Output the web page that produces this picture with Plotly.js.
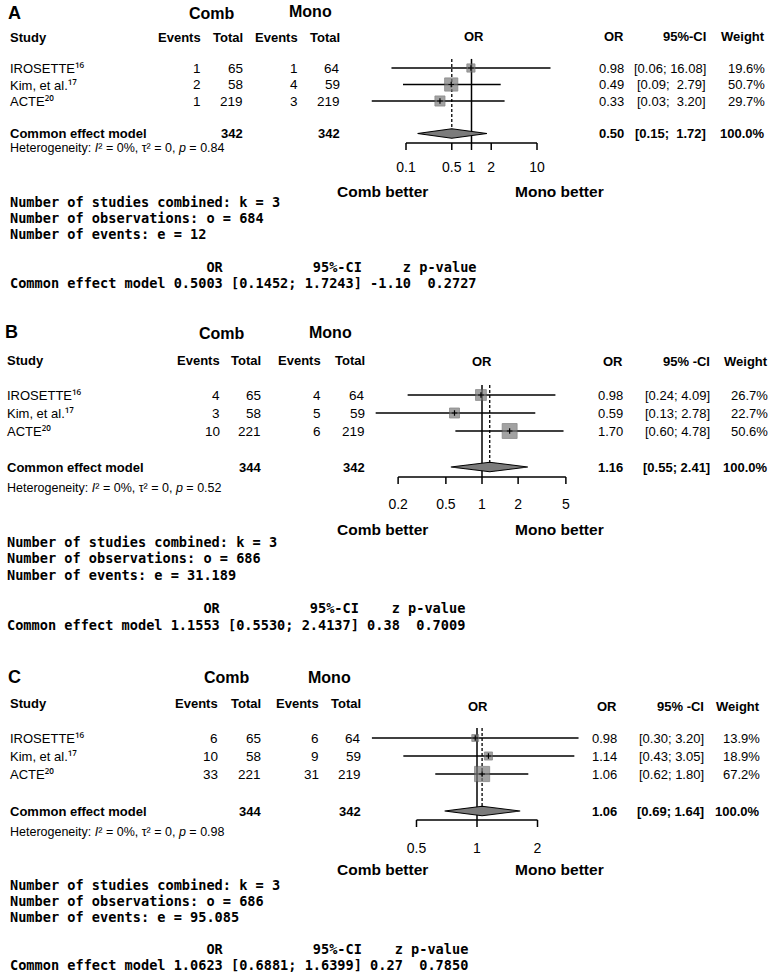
<!DOCTYPE html>
<html><head><meta charset="utf-8">
<script src="https://cdn.plot.ly/plotly-3.0.1.min.js"></script>
<style>body{margin:0;background:#fff}#chart{width:775px;height:976px}</style>
</head><body><div id="chart"></div>
<script>
// ---------------- DATA ----------------
const studyNames = ["IROSETTE", "Kim, et al.", "ACTE"];
const studyRefs  = ["\u00b9\u2076", "\u00b9\u2077", "\u00b2\u2070"];   // reference numbers 16, 17, 20
const panelLabels = ["A", "B", "C"];

const A_combEvents = [1, 2, 1];
const A_combTotal  = [65, 58, 219];
const A_monoEvents = [1, 4, 3];
const A_monoTotal  = [64, 59, 219];
const A_or   = [0.98, 0.49, 0.33];
const A_lo   = [0.06, 0.09, 0.03];
const A_hi   = [16.08, 2.79, 3.20];
const A_w    = [19.6, 50.7, 29.7];
const A_pool = [0.50, 0.15, 1.72];        // OR, lower, upper
const A_poolTotals = [342, 342];
const A_het = ["0%", "0", "0.84"];          // I2, tau2, p
const A_summary = [3, 684, "12"];           // k, o, e
const A_model = ["0.5003", "0.1452", "1.7243", "-1.10", "0.2727"];
const A_ticks = [0.1, 0.5, 1, 2, 10];
const A_tickLabels = ["0.1", "0.5", "1", "2", "10"];

const B_combEvents = [4, 3, 10];
const B_combTotal  = [65, 58, 221];
const B_monoEvents = [4, 5, 6];
const B_monoTotal  = [64, 59, 219];
const B_or   = [0.98, 0.59, 1.70];
const B_lo   = [0.24, 0.13, 0.60];
const B_hi   = [4.09, 2.78, 4.78];
const B_w    = [26.7, 22.7, 50.6];
const B_pool = [1.16, 0.55, 2.41];
const B_poolTotals = [344, 342];
const B_het = ["0%", "0", "0.52"];
const B_summary = [3, 686, "31.189"];
const B_model = ["1.1553", "0.5530", "2.4137", "0.38", "0.7009"];
const B_ticks = [0.2, 0.5, 1, 2, 5];
const B_tickLabels = ["0.2", "0.5", "1", "2", "5"];

const C_combEvents = [6, 10, 33];
const C_combTotal  = [65, 58, 221];
const C_monoEvents = [6, 9, 31];
const C_monoTotal  = [64, 59, 219];
const C_or   = [0.98, 1.14, 1.06];
const C_lo   = [0.30, 0.43, 0.62];
const C_hi   = [3.20, 3.05, 1.80];
const C_w    = [13.9, 18.9, 67.2];
const C_pool = [1.06, 0.69, 1.64];
const C_poolTotals = [344, 342];
const C_het = ["0%", "0", "0.98"];
const C_summary = [3, 686, "95.085"];
const C_model = ["1.0623", "0.6881", "1.6399", "0.27", "0.7850"];
const C_ticks = [0.5, 1, 2];
const C_tickLabels = ["0.5", "1", "2"];

// ---------------- LAYOUT CONFIG (pixel positions) ----------------
const W = 775, H = 976;
const SANS = "Liberation Sans, Arial, sans-serif";
const NARROW = "Liberation Sans Narrow, Arial Narrow, Liberation Sans, Arial, sans-serif";
const MONO = "DejaVu Sans Mono, monospace";
const NB = "\u00a0";

const panels = [
  {label: panelLabels[0], ce: A_combEvents, ct: A_combTotal, me: A_monoEvents, mt: A_monoTotal,
   or: A_or, lo: A_lo, hi: A_hi, w: A_w, pool: A_pool, pt: A_poolTotals, het: A_het, sum: A_summary,
   model: A_model, ticks: A_ticks, tickLabels: A_tickLabels, ciHdr: "95%-CI",
   left: 8, letterY: 13, combY: 13, monoHY: 11, combX: 212, monoX: 310, studyY: 37,
   cols: [203, 245, 300, 342], rcols: [626, 708, 767], orHdrY: 36, orHdrX: 474,
   row0: 68, step: 16.5, poolY: 133.5, hetY: 148, axisY: 143, tickLabY: 168, betterY: 191,
   monoY: [202, 218, 234, 267, 283], c: 471.5, s: 65.5, sqk: 1.85, xa: "x"},
  {label: panelLabels[1], ce: B_combEvents, ct: B_combTotal, me: B_monoEvents, mt: B_monoTotal,
   or: B_or, lo: B_lo, hi: B_hi, w: B_w, pool: B_pool, pt: B_poolTotals, het: B_het, sum: B_summary,
   model: B_model, ticks: B_ticks, tickLabels: B_tickLabels, ciHdr: "95%" + NB + "-CI",
   left: 5, letterY: 332, combY: 333, monoHY: 332, combX: 222, monoX: 330, studyY: 360,
   cols: [222, 263, 323, 367], rcols: [625, 712, 770], orHdrY: 361, orHdrX: 482,
   row0: 395, step: 18, poolY: 467, hetY: 488, axisY: 477, tickLabY: 505, betterY: 529,
   monoY: [542, 558, 575, 608, 625], c: 482, s: 120, sqk: 2.1, xa: "x2"},
  {label: panelLabels[2], ce: C_combEvents, ct: C_combTotal, me: C_monoEvents, mt: C_monoTotal,
   or: C_or, lo: C_lo, hi: C_hi, w: C_w, pool: C_pool, pt: C_poolTotals, het: C_het, sum: C_summary,
   model: C_model, ticks: C_ticks, tickLabels: C_tickLabels, ciHdr: "95%" + NB + "-CI",
   left: 8, letterY: 677, combY: 677, monoHY: 677, combX: 227, monoX: 329, studyY: 703,
   cols: [220, 263, 321, 363], rcols: [619, 706, 762], orHdrY: 706, orHdrX: 478,
   row0: 738, step: 18, poolY: 811, hetY: 832, axisY: 820, tickLabY: 849, betterY: 869,
   monoY: [885, 901, 917, 949, 965], c: 477, s: 201, sqk: 1.85, xa: "x3"}
];

const DOM0 = 345, DOM1 = 605;   // horizontal pixel span of each forest subplot

const traces = [];
const annotations = [];
const layout = {
  width: W, height: H, margin: {l: 0, r: 0, t: 0, b: 0},
  paper_bgcolor: "#fff", plot_bgcolor: "rgba(0,0,0,0)", showlegend: false,
  yaxis: {domain: [0, 1], range: [H, 0], visible: false, fixedrange: true},
  annotations: annotations
};

function ann(text, x, y, xanchor, size, bold, family) {
  annotations.push({
    text: text,
    xref: "paper", yref: "y", x: x / W, y: y,
    xanchor: xanchor, yanchor: "middle", showarrow: false,
    font: {family: family || SANS, size: size, color: "#000", weight: bold ? "bold" : "normal"}
  });
}
const nb = s => s.replace(/ /g, NB);
const supSpan = s => "<span style=\"font-family:'Noto Sans'\">" + s + "</span>";

panels.forEach((p, idx) => {
  const axKey = idx === 0 ? "xaxis" : "xaxis" + (idx + 1);
  layout[axKey] = {
    type: "log", domain: [DOM0 / W, DOM1 / W],
    range: [(DOM0 - p.c) / p.s, (DOM1 - p.c) / p.s],
    visible: false, fixedrange: true, anchor: "y"
  };
  const rows = p.or.map((_, i) => p.row0 + i * p.step);
  const top = p.row0 - 0.55 * p.step;
  const dh = 4.8;
  const common = {xaxis: p.xa, yaxis: "y", hoverinfo: "skip", showlegend: false};

  // reference line at OR = 1
  traces.push(Object.assign({type: "scatter", mode: "lines", x: [1, 1], y: [top, p.axisY],
    line: {color: "#000", width: 1.5}}, common));
  // dashed line at pooled estimate
  traces.push(Object.assign({type: "scatter", mode: "lines", x: [p.pool[0], p.pool[0]], y: [top, p.poolY - dh],
    line: {color: "#000", width: 1.3, dash: "3px,2px"}}, common));
  // CI lines
  const cx = [], cy = [];
  rows.forEach((ry, i) => { cx.push(p.lo[i], p.hi[i], null); cy.push(ry, ry, null); });
  traces.push(Object.assign({type: "scatter", mode: "lines", x: cx, y: cy,
    line: {color: "#000", width: 1.5}}, common));
  // squares
  traces.push(Object.assign({type: "scatter", mode: "markers", x: p.or, y: rows,
    marker: {symbol: "square", size: p.w.map(v => p.sqk * Math.sqrt(v)), color: "#7b7b7b",
      line: {color: "#5a5a5a", width: 0.8}}}, common));
  // centre ticks
  traces.push(Object.assign({type: "scatter", mode: "markers", x: p.or, y: rows,
    marker: {symbol: "cross-thin", size: 4, line: {color: "#000", width: 1.2}}}, common));
  // diamond
  traces.push(Object.assign({type: "scatter", mode: "lines",
    x: [p.pool[1], p.pool[0], p.pool[2], p.pool[0], p.pool[1]],
    y: [p.poolY, p.poolY - dh, p.poolY, p.poolY + dh, p.poolY],
    fill: "toself", fillcolor: "#7b7b7b", line: {color: "#000", width: 1.1}}, common));
  // axis line and ticks
  const ax = [p.ticks[0], p.ticks[p.ticks.length - 1], null], ay = [p.axisY, p.axisY, null];
  p.ticks.forEach(t => { ax.push(t, t, null); ay.push(p.axisY, p.axisY + 7, null); });
  traces.push(Object.assign({type: "scatter", mode: "lines", x: ax, y: ay,
    line: {color: "#000", width: 1.5}}, common));
  // tick labels
  traces.push(Object.assign({type: "scatter", mode: "text", x: p.ticks,
    y: p.ticks.map(() => p.tickLabY), text: p.tickLabels, textposition: "middle center",
    textfont: {family: SANS, size: 14, color: "#000"}, cliponaxis: false}, common));

  // ---------- text ----------
  ann(p.label, p.left - 2, p.letterY, "left", 18, true, NARROW);
  ann("Comb", p.combX, p.combY, "center", 16, true);
  ann("Mono", p.monoX, p.monoHY, "center", 16, true);
  ann("Study", p.left, p.studyY, "left", 13, true);
  ["Events", "Total", "Events", "Total"].forEach((h, j) => ann(h, p.cols[j], p.studyY, "right", 13, true));
  ann("OR", p.orHdrX, p.orHdrY, "center", 13, true);
  ["OR", p.ciHdr, "Weight"].forEach((h, j) => ann(h, p.rcols[j], p.orHdrY, "right", 13, true));

  const hiStr = p.hi.concat([p.pool[2]]).map(v => v.toFixed(2));
  const hiLen = Math.max(...hiStr.map(s => s.length));
  const ciStr = (lo, k) => "[" + lo.toFixed(2) + ";" + NB + NB.repeat(hiLen - hiStr[k].length) + hiStr[k] + "]";

  rows.forEach((ry, i) => {
    ann(studyNames[i] + supSpan(studyRefs[i]), p.left, ry, "left", 13, false);
    [p.ce[i], p.ct[i], p.me[i], p.mt[i]].forEach((v, j) => ann(String(v), p.cols[j], ry, "right", 13.5, false));
    ann(p.or[i].toFixed(2), p.rcols[0], ry, "right", 13, false);
    ann(ciStr(p.lo[i], i), p.rcols[1], ry, "right", 13, false);
    ann(p.w[i].toFixed(1) + "%", p.rcols[2], ry, "right", 13, false);
  });
  ann("Common effect model", p.left, p.poolY, "left", 13, true);
  ann(String(p.pt[0]), p.cols[1], p.poolY, "right", 13, true);
  ann(String(p.pt[1]), p.cols[3], p.poolY, "right", 13, true);
  ann(p.pool[0].toFixed(2), p.rcols[0], p.poolY, "right", 13, true);
  ann(ciStr(p.pool[1], 3), p.rcols[1], p.poolY, "right", 13, true);
  ann("100.0%", p.rcols[2], p.poolY, "right", 13, true);
  ann("Heterogeneity: <i>I</i>\u00b2 = " + p.het[0] + ", τ\u00b2 = " + p.het[1] +
      ", <i>p</i> = " + p.het[2], p.left, p.hetY, "left", 12.5, false);

  ann("Comb better", 382, p.betterY, "center", 15.5, true);
  ann("Mono better", 559, p.betterY, "center", 15.5, true);

  // R console summary
  const m = p.model;
  const ci = "[" + m[1] + "; " + m[2] + "]";
  const pv = m[4].padStart(7);
  const line = "Common effect model " + m[0] + " " + ci + " " + m[3] + " " + pv;
  const hdr = " ".repeat(20) + "OR".padStart(m[0].length) + " " + "95%-CI".padStart(ci.length) +
              " " + "z".padStart(m[3].length) + " " + "p-value".padStart(7);
  const monoLines = ["Number of studies combined: k = " + p.sum[0],
                     "Number of observations: o = " + p.sum[1],
                     "Number of events: e = " + p.sum[2], hdr, line];
  monoLines.forEach((t, j) => ann(nb(t), p.left, p.monoY[j], "left", 13.6, true, MONO));
});

Plotly.newPlot("chart", traces, layout, {staticPlot: true, displayModeBar: false});
</script>
</body></html>
